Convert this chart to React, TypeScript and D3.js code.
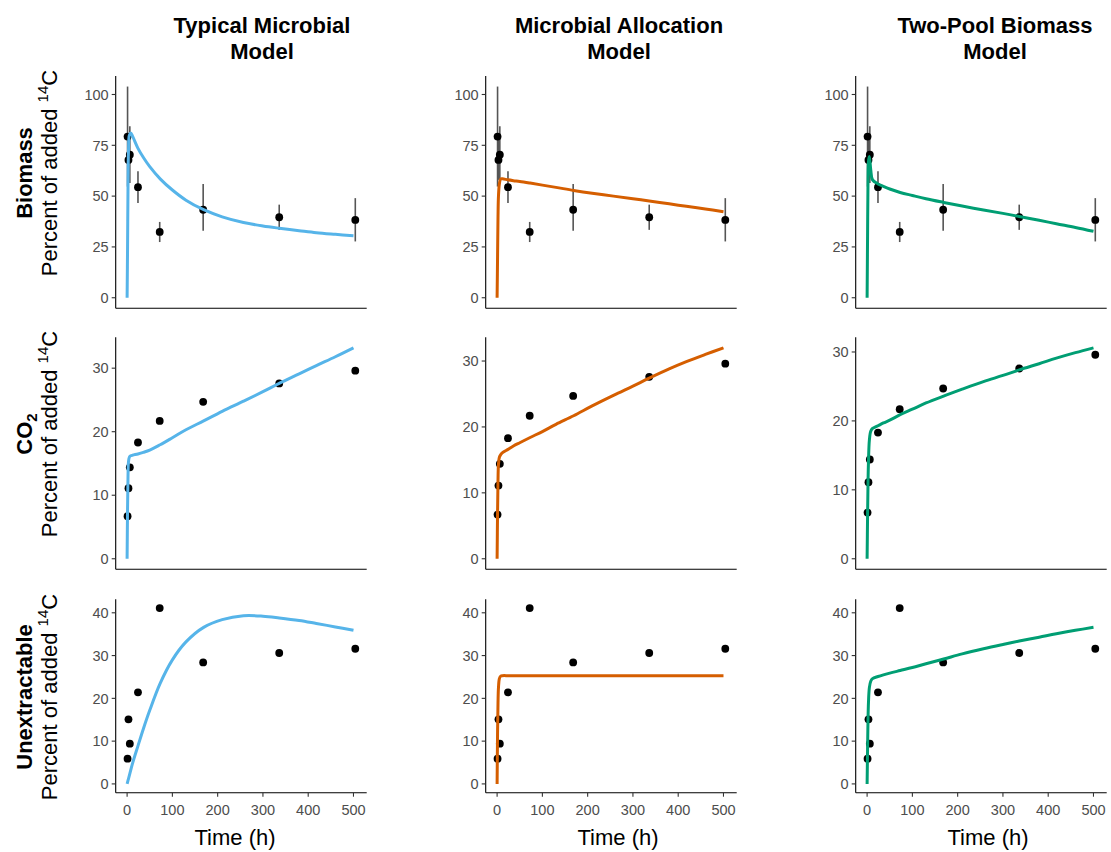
import * as d3 from "d3";

// observed sampling times (h) and measured pools
const sampleTimes = [1, 3, 6, 24, 72, 168, 336, 504];
const biomassObs = [79.3, 67.8, 70.4, 54.4, 32.4, 43.3, 39.6, 38.3];
const biomassLow = [54.7, 58, 56.4, 46.6, 27.4, 33, 33.4, 27.7];
const biomassHigh = [103.9, 77.6, 84.4, 62.2, 37.3, 56, 45.8, 49];
const co2Obs = [6.7, 11.1, 14.4, 18.3, 21.7, 24.7, 27.6, 29.6];
const unextObs = [5.9, 15.1, 9.4, 21.4, 41.1, 28.4, 30.6, 31.6];

// model output read at these times
const modelTimes = [0, 1, 2, 3, 5, 8, 12, 24, 36, 50, 73, 100, 130, 169, 210, 257, 300, 336, 380, 418, 460, 500];
const typicalBiomass = [0, 25, 55, 72, 80, 81, 79.5, 73.5, 69, 64.5, 58.5, 53, 48, 43.3, 39.8, 37, 35.3, 34.2, 33, 32, 31.2, 30.5];
const allocBiomass = [0, 20, 40, 50, 56, 58.5, 58.5, 58, 57.6, 57.2, 56.4, 55.4, 54.3, 52.8, 51.4, 50, 48.7, 47.6, 46.2, 45, 43.7, 42.3];
const twoPoolBiomass = [0, 30, 58, 67, 69.5, 63, 58, 56, 54.8, 53.5, 51.8, 50.3, 48.7, 46.9, 45.1, 43.2, 41.5, 40, 38.1, 36.4, 34.6, 32.7];
const typicalCo2 = [0, 8, 13, 15.2, 16, 16.2, 16.3, 16.5, 16.75, 17.1, 17.95, 19.05, 20.3, 21.7, 23.2, 24.8, 26.3, 27.6, 29.1, 30.4, 31.8, 33.2];
const allocCo2 = [0, 7, 12, 14.3, 15.4, 15.8, 16.1, 16.6, 17.1, 17.6, 18.4, 19.3, 20.4, 21.7, 23.2, 24.8, 26.2, 27.4, 28.8, 29.9, 31, 32];
const twoPoolCo2 = [0, 6, 11, 14, 17.2, 18.5, 18.9, 19.3, 19.7, 20.1, 20.9, 21.7, 22.6, 23.6, 24.6, 25.7, 26.6, 27.4, 28.3, 29.1, 29.9, 30.6];
const typicalUnext = [0, 0.4, 0.8, 1.2, 2, 3.2, 4.8, 8.9, 12.9, 17.2, 23.5, 29, 33.2, 36.6, 38.4, 39.3, 39.2, 38.8, 38.2, 37.5, 36.7, 35.9];
const allocUnext = [0, 12, 19, 22.5, 24.6, 25.2, 25.3, 25.3, 25.3, 25.3, 25.3, 25.3, 25.3, 25.3, 25.3, 25.3, 25.3, 25.3, 25.3, 25.3, 25.3, 25.3];
const twoPoolUnext = [0, 8, 15, 19, 22.5, 24, 24.6, 25.1, 25.5, 25.9, 26.5, 27.2, 28.1, 29.2, 30.4, 31.6, 32.6, 33.4, 34.3, 35.1, 35.9, 36.6];

const modelTitles = [
  ["Typical Microbial", "Model"],
  ["Microbial Allocation", "Model"],
  ["Two-Pool Biomass", "Model"],
];
const modelColors = ["#56B4E9", "#D55E00", "#009E73"];
const xTicks = [0, 100, 200, 300, 400, 500];

const rows = [
  { name: "Biomass", obs: biomassObs, low: biomassLow, high: biomassHigh, ticks: [0, 25, 50, 75, 100], curves: [typicalBiomass, allocBiomass, twoPoolBiomass] },
  { name: "CO2", obs: co2Obs, low: null, high: null, ticks: [0, 10, 20, 30], curves: [typicalCo2, allocCo2, twoPoolCo2] },
  { name: "Unextractable", obs: unextObs, low: null, high: null, ticks: [0, 10, 20, 30, 40], curves: [typicalUnext, allocUnext, twoPoolUnext] },
];

const W = 1111;
const H = 852;
const COL_LEFT = [115.7, 485.7, 855.7];
const PANEL_W = 251;
const ROW_TOP = [76, 337.3, 599.3];
const ROW_BOTTOM = [308.3, 569.3, 792.7];
const TITLE_X = [262, 619, 995];
const XLAB_X = [235, 618, 988];
const YLAB_Y = [173, 434, 697];
const FONT = "'Liberation Sans', Arial, Helvetica, sans-serif";

const expand = (lo: number, hi: number) => {
  const pad = (hi - lo) * 0.05;
  return [lo - pad, hi + pad];
};

const Panel = ({ row, r, c }: { row: any; r: number; c: number }) => {
  const left = COL_LEFT[c];
  const top = ROW_TOP[r];
  const bottom = ROW_BOTTOM[r];
  const curve = row.curves[c];

  const xMax = Math.max(d3.max(sampleTimes)!, d3.max(modelTimes)!);
  const x = d3.scaleLinear().domain(expand(0, xMax)).range([left, left + PANEL_W]);

  const vals = [...row.obs, ...curve, ...(row.low ?? []), ...(row.high ?? [])];
  const y = d3
    .scaleLinear()
    .domain(expand(d3.min(vals)!, d3.max(vals)!))
    .range([bottom, top]);

  const line = d3
    .line<number>()
    .x((_, i) => x(modelTimes[i]))
    .y((d) => y(d))
    .curve(d3.curveCatmullRom.alpha(0.5));

  const isBottom = r === rows.length - 1;

  return (
    <g>
      {row.low &&
        sampleTimes.map((t, i) => (
          <line key={`e${i}`} x1={x(t)} x2={x(t)} y1={y(row.low[i])} y2={y(row.high[i])} stroke="#555" strokeWidth={1.6} />
        ))}
      {sampleTimes.map((t, i) => (
        <circle key={`p${i}`} cx={x(t)} cy={y(row.obs[i])} r={3.9} fill="#000" />
      ))}
      <path d={line(curve) ?? ""} fill="none" stroke={modelColors[c]} strokeWidth={3} strokeLinejoin="round" />

      <line x1={left} x2={left} y1={top} y2={bottom} stroke="#000" strokeWidth={1.1} />
      <line x1={left} x2={left + PANEL_W} y1={bottom} y2={bottom} stroke="#000" strokeWidth={1.1} />
      {row.ticks.map((t: number) => (
        <g key={`y${t}`}>
          <line x1={left - 4} x2={left} y1={y(t)} y2={y(t)} stroke="#333" strokeWidth={1.1} />
          <text x={left - 7} y={y(t)} dy="0.36em" textAnchor="end" fontSize={14.5} fill="#4D4D4D">
            {t}
          </text>
        </g>
      ))}
      {isBottom &&
        xTicks.map((t) => (
          <g key={`x${t}`}>
            <line x1={x(t)} x2={x(t)} y1={bottom} y2={bottom + 4} stroke="#333" strokeWidth={1.1} />
            <text x={x(t)} y={bottom + 22} textAnchor="middle" fontSize={14.5} fill="#4D4D4D">
              {t}
            </text>
          </g>
        ))}
      {isBottom && (
        <text x={XLAB_X[c]} y={845} textAnchor="middle" fontSize={22} fill="#000">
          Time (h)
        </text>
      )}
    </g>
  );
};

const RowLabel = ({ name, cy }: { name: string; cy: number }) => (
  <g>
    <text transform={`translate(31.5,${cy}) rotate(-90)`} textAnchor="middle" fontSize={22} fontWeight="bold">
      {name === "CO2" ? (
        <>
          CO<tspan fontSize={15} dy={5}>2</tspan>
        </>
      ) : (
        name
      )}
    </text>
    <text transform={`translate(56.5,${cy}) rotate(-90)`} textAnchor="middle" fontSize={22}>
      Percent of added <tspan fontSize={15} dy={-9}>14</tspan>
      <tspan dy={9}>C</tspan>
    </text>
  </g>
);

export default function App() {
  return (
    <svg width={W} height={H} style={{ position: "absolute", left: 0, top: 0, background: "#fff" }} fontFamily={FONT}>
      <rect width={W} height={H} fill="#fff" />
      {modelTitles.map((lines, c) => (
        <text key={c} x={TITLE_X[c]} textAnchor="middle" fontSize={22} fontWeight="bold">
          <tspan x={TITLE_X[c]} y={33}>{lines[0]}</tspan>
          <tspan x={TITLE_X[c]} y={59}>{lines[1]}</tspan>
        </text>
      ))}
      {rows.map((row, r) => (
        <g key={row.name}>
          <RowLabel name={row.name} cy={YLAB_Y[r]} />
          {modelColors.map((_, c) => (
            <Panel key={c} row={row} r={r} c={c} />
          ))}
        </g>
      ))}
    </svg>
  );
}
